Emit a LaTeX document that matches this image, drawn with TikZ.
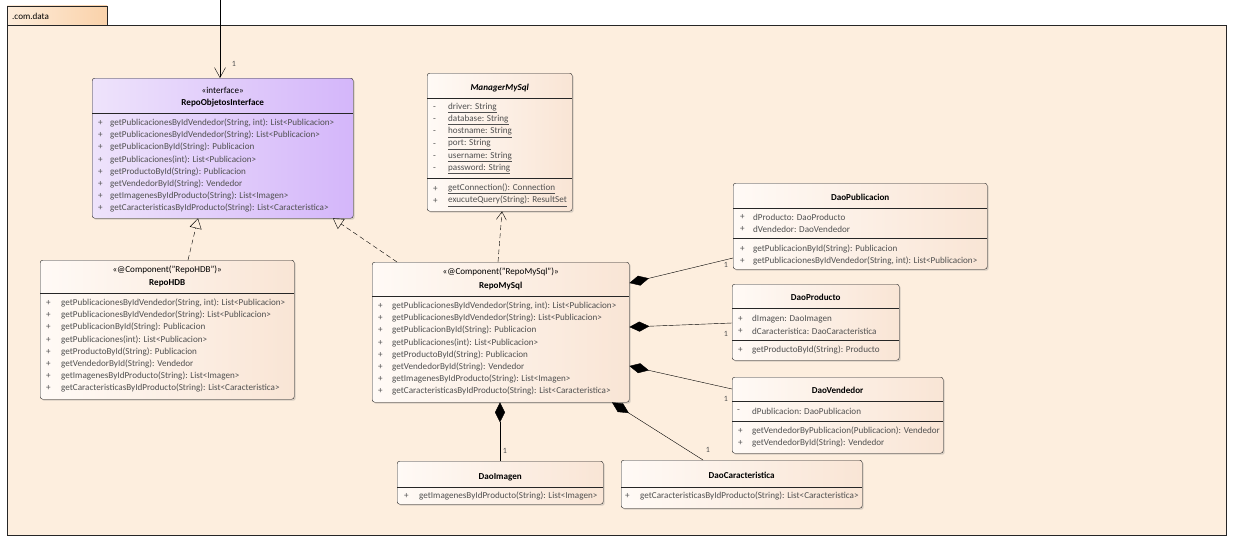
\documentclass[tikz,border=0pt]{standalone}
\usepackage{fontspec}
\setmainfont{Carlito}
\usepackage{xcolor}
\usetikzlibrary{arrows.meta,positioning,shadows,calc}

\definecolor{pkgbg}{RGB}{253,238,222}
\definecolor{tabl}{RGB}{253,236,218}
\definecolor{tabr}{RGB}{250,210,170}
\definecolor{ifl}{RGB}{238,227,251}
\definecolor{ifr}{RGB}{212,182,250}
\definecolor{clsl}{RGB}{255,250,246}
\definecolor{clsr}{RGB}{249,229,213}
\definecolor{memtext}{RGB}{80,80,80}

\newcommand{\memfont}{\fontsize{9.1}{11}\selectfont}
\newcommand{\repomethods}{
  0/{getPublicacionesByIdVendedor(String, int): List<Publicacion>},
  1/{getPublicacionesByIdVendedor(String): List<Publicacion>},
  2/{getPublicacionById(String): Publicacion},
  3/{getPublicaciones(int): List<Publicacion>},
  4/{getProductoById(String): Publicacion},
  5/{getVendedorById(String): Vendedor},
  6/{getImagenesByIdProducto(String): List<Imagen>},
  7/{getCaracteristicasByIdProducto(String): List<Caracteristica>}}

\begin{document}
\begin{tikzpicture}[
  x=1pt, y=-1pt,
  clsbox/.style={draw=black!85, rounded corners=2.5pt, anchor=north west, inner sep=0pt,
    left color=clsl, right color=clsr,
    drop shadow={shadow xshift=1.5pt, shadow yshift=-1.5pt, opacity=0.3}},
  ifbox/.style={clsbox, left color=ifl, right color=ifr},
  mem/.style={anchor=west, inner sep=0pt, font=\memfont, text=memtext},
  clsname/.style={inner sep=0pt, font=\memfont\bfseries},
  stereo/.style={inner sep=0pt, font=\memfont},
  mult/.style={inner sep=0pt, font=\fontsize{8}{9}\selectfont, text=memtext},
  divider/.style={draw=black!85},
  realize/.style={dash pattern=on 5pt off 3pt, -{Triangle[open, length=10pt, width=12pt]}},
  depend/.style={dash pattern=on 5pt off 3pt, -{Straight Barb[length=8pt, width=10pt]}},
  compose/.style={{Diamond[length=20pt, width=10pt]}-},
]
\useasboundingbox (0,0) rectangle (1238,552);
\fill[white] (0,0) rectangle (1238,552);

% Package
\node[draw=black!85, fill=pkgbg, anchor=north west, inner sep=0pt,
  minimum width=1219pt, minimum height=510pt] (pkg) at (7,25) {};
\node[draw=black!85, left color=tabl, right color=tabr, anchor=south west, inner sep=0pt,
  minimum width=100pt, minimum height=19pt] (tab) at (pkg.north west) {};
\node[anchor=west, inner sep=0pt, font=\memfont] (pkgname) at (12,16) {.com.data};

% RepoObjetosInterface
\node[ifbox, minimum width=261pt, minimum height=140pt] (ri) at (92,78) {};
\node[stereo] (ri-st) at (ri.north |- 0,90) {«interface»};
\node[clsname] (ri-nm) at (ri.north |- 0,103) {RepoObjetosInterface};
\draw[divider] (ri.west |- 0,113) -- (ri.east |- 0,113);
\foreach \i/\txt in \repomethods {
  \node[mem] (ri-p\i) at (98, 123+12.2*\i) {+};
  \node[mem] (ri-m\i) at (110, 123+12.2*\i) {\txt};
}

% ManagerMySql
\node[clsbox, minimum width=145pt, minimum height=138pt] (mm) at (427,73) {};
\node[clsname] (mm-nm) at (mm.north |- 0,88) {\itshape ManagerMySql};
\draw[divider] (mm.west |- 0,98) -- (mm.east |- 0,98);
\foreach \i/\txt in {0/driver, 1/database, 2/hostname, 3/port, 4/username, 5/password} {
  \node[mem] (mm-p\i) at (433, 108+12.2*\i) {-};
  \node[mem] (mm-a\i) at (448, 108+12.2*\i) {\underline{\txt: String}};
}
\draw[divider] (mm.west |- 0,178) -- (mm.east |- 0,178);
\foreach \i/\txt in {0/{getConnection(): Connection}, 1/{exucuteQuery(String): ResultSet}} {
  \node[mem] (mm-q\i) at (433, 189+12.2*\i) {+};
  \node[mem] (mm-m\i) at (448, 189+12.2*\i) {\underline{\txt}};
}

% DaoPublicacion
\node[clsbox, minimum width=254pt, minimum height=86pt] (dp) at (733,183) {};
\node[clsname] (dp-nm) at (dp.north |- 0,197) {DaoPublicacion};
\draw[divider] (dp.west |- 0,208) -- (dp.east |- 0,208);
\foreach \i/\txt in {0/{dProducto: DaoProducto}, 1/{dVendedor: DaoVendedor}} {
  \node[mem] (dp-p\i) at (740, 217+12*\i) {+};
  \node[mem] (dp-a\i) at (753, 217+12*\i) {\txt};
}
\draw[divider] (dp.west |- 0,238) -- (dp.east |- 0,238);
\foreach \i/\txt in {0/{getPublicacionById(String): Publicacion},
                     1/{getPublicacionesByIdVendedor(String, int): List<Publicacion>}} {
  \node[mem] (dp-q\i) at (740, 249+12*\i) {+};
  \node[mem] (dp-m\i) at (753, 249+12*\i) {\txt};
}

% RepoHDB
\node[clsbox, minimum width=254pt, minimum height=139pt] (rh) at (40,260) {};
\node[stereo] (rh-st) at (rh.north |- 0,270) {«@Component("RepoHDB")»};
\node[clsname] (rh-nm) at (rh.north |- 0,283) {RepoHDB};
\draw[divider] (rh.west |- 0,293) -- (rh.east |- 0,293);
\foreach \i/\txt in \repomethods {
  \node[mem] (rh-p\i) at (46, 303+12.2*\i) {+};
  \node[mem] (rh-m\i) at (61, 303+12.2*\i) {\txt};
}

% RepoMySql
\node[clsbox, minimum width=257pt, minimum height=140pt] (rms) at (372,262) {};
\node[stereo] (rms-st) at (rms.north |- 0,272) {«@Component("RepoMySql")»};
\node[clsname] (rms-nm) at (rms.north |- 0,286) {RepoMySql};
\draw[divider] (rms.west |- 0,296) -- (rms.east |- 0,296);
\foreach \i/\txt in \repomethods {
  \node[mem] (rms-p\i) at (378, 306+12.2*\i) {+};
  \node[mem] (rms-m\i) at (392, 306+12.2*\i) {\txt};
}

% DaoProducto
\node[clsbox, minimum width=167pt, minimum height=76pt] (dpr) at (732,284) {};
\node[clsname] (dpr-nm) at (dpr.north |- 0,297) {DaoProducto};
\draw[divider] (dpr.west |- 0,308) -- (dpr.east |- 0,308);
\foreach \i/\txt in {0/{dImagen: DaoImagen}, 1/{dCaracteristica: DaoCaracteristica}} {
  \node[mem] (dpr-p\i) at (738, 319+12*\i) {+};
  \node[mem] (dpr-a\i) at (752, 319+12*\i) {\txt};
}
\draw[divider] (dpr.west |- 0,340) -- (dpr.east |- 0,340);
\node[mem] (dpr-q0) at (738,350) {+};
\node[mem] (dpr-m0) at (752,350) {getProductoById(String): Producto};

% DaoVendedor
\node[clsbox, minimum width=211pt, minimum height=76pt] (dv) at (732,377) {};
\node[clsname] (dv-nm) at (dv.north |- 0,390) {DaoVendedor};
\draw[divider] (dv.west |- 0,401) -- (dv.east |- 0,401);
\node[mem] (dv-p0) at (737,411) {-};
\node[mem] (dv-a0) at (752,411) {dPublicacion: DaoPublicacion};
\draw[divider] (dv.west |- 0,421) -- (dv.east |- 0,421);
\foreach \i/\txt in {0/{getVendedorByPublicacion(Publicacion): Vendedor}, 1/{getVendedorById(String): Vendedor}} {
  \node[mem] (dv-q\i) at (738, 431+11.5*\i) {+};
  \node[mem] (dv-m\i) at (752, 431+11.5*\i) {\txt};
}

% DaoImagen
\node[clsbox, minimum width=206pt, minimum height=43pt] (di) at (397,461) {};
\node[clsname] (di-nm) at (di.north |- 0,477) {DaoImagen};
\draw[divider] (di.west |- 0,487) -- (di.east |- 0,487);
\node[mem] (di-p0) at (404,496) {+};
\node[mem] (di-m0) at (419,496) {getImagenesByIdProducto(String): List<Imagen>};

% DaoCaracteristica
\node[clsbox, minimum width=241pt, minimum height=48pt] (dc) at (621,460) {};
\node[clsname] (dc-nm) at (dc.north |- 0,475) {DaoCaracteristica};
\draw[divider] (dc.west |- 0,487) -- (dc.east |- 0,487);
\node[mem] (dc-p0) at (625,496) {+};
\node[mem] (dc-m0) at (640,496) {getCaracteristicasByIdProducto(String): List<Caracteristica>};

% Connectors
\coordinate (ext) at (220,0);
\draw[-{Straight Barb[length=10pt, width=11pt]}] (ext) -- (ext |- ri.north);
\node[mult] (m-ri) at (234,64) {1};

\draw[realize] (rh.north -| 188,0) -- (ri.south -| 198,0);
\draw[realize] (rms.north -| 397,0) -- (ri.south -| 333,0);
\draw[depend] (rms.north -| 498,0) -- (mm.south -| 502,0);

\draw[compose] (rms.east |- 0,283) -- (dp.west |- 0,258);
\draw[compose] (rms.east |- 0,327) -- (dpr.west |- 0,323);
\draw[compose] (rms.east |- 0,366) -- (dv.west |- 0,389);
\draw[compose] (rms.south -| 612,0) -- (dc.north -| 703,0);
\draw[compose] (rms.south -| 500,0) -- (di.north -| 500,0);

\node[mult] (m-dp) at (726,265) {1};
\node[mult] (m-dpr) at (726,334) {1};
\node[mult] (m-dv) at (726,399) {1};
\node[mult] (m-dc) at (708,450) {1};
\node[mult] (m-di) at (505,451) {1};
\end{tikzpicture}
\end{document}
